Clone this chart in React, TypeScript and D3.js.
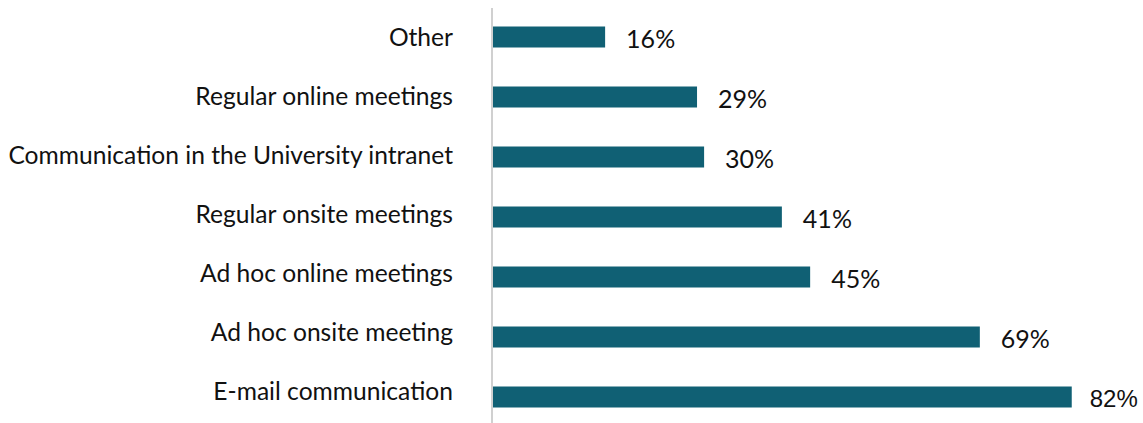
import React from "react";
import * as d3 from "d3";

const categories = [
  "Other",
  "Regular online meetings",
  "Communication in the University intranet",
  "Regular onsite meetings",
  "Ad hoc online meetings",
  "Ad hoc onsite meeting",
  "E-mail communication",
];
const values = [16, 29, 30, 41, 45, 69, 82];

export default function App() {
  const W = 1143;
  const H = 423;
  const x0 = 492;
  const x = d3.scaleLinear().domain([0, 100]).range([x0, x0 + 707]);
  const y = d3.scaleBand<string>().domain(categories).range([7, 427]).paddingInner(0.65).paddingOuter(0.325);
  const yLabel = d3.scalePoint<string>().domain(categories).range([37, 391]);
  return (
    <svg width={W} height={H} style={{ position: "absolute", left: 0, top: 0 }}>
      <rect width={W} height={H} fill="#fff" />
      <line x1={x0} x2={x0} y1={8} y2={H} stroke="#d0d0d0" strokeWidth={2} />
      {categories.map((c, i) => {
        const yy = y(c)!;
        const bw = y.bandwidth();
        const last = i === categories.length - 1;
        return (
          <g key={c}>
            <rect x={x0 + 1} y={yy} width={x(values[i]) - x0 - 1} height={bw} fill="#106074" />
            <text
              x={x0 - 39}
              y={yLabel(c)!}
              dy="0.36em"
              textAnchor="end"
              fontFamily="Lato"
              fontSize={24.6}
              fill="#111"
            >
              {c}
            </text>
            <text
              x={x(values[i]) + (last ? 18 : 21)}
              y={yy + bw / 2 + 1.5}
              dy="0.36em"
              fontFamily={last ? "Liberation Sans" : "Lato"}
              fontSize={last ? 24 : 25}
              fill="#111"
            >
              {values[i]}%
            </text>
          </g>
        );
      })}
    </svg>
  );
}
